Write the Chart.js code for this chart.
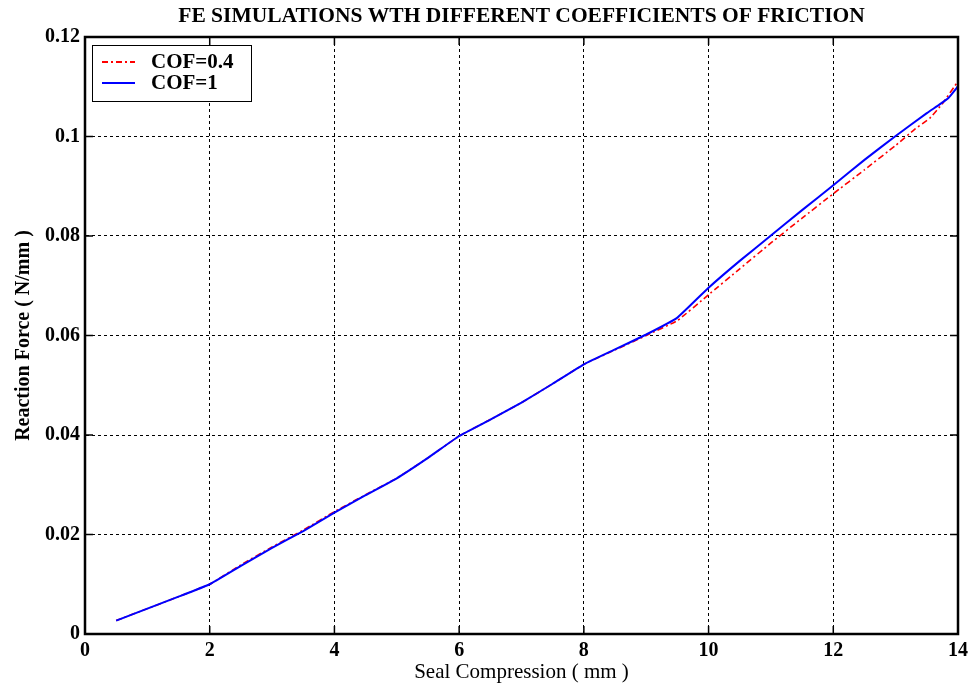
<!DOCTYPE html>
<html>
<head>
<meta charset="utf-8">
<script src="https://cdn.jsdelivr.net/npm/chart.js@4/dist/chart.umd.min.js"></script>
<style>
  html, body { margin: 0; padding: 0; background: #fff; }
  #wrap { width: 976px; height: 687px; position: relative; }
</style>
</head>
<body>
<div id="wrap"><canvas id="frictionChart"></canvas></div>
<script>
// values
const cof1X = [0.5, 1.0, 1.5, 2.0, 2.5, 3.0, 3.5, 4.0, 4.5, 5.0, 5.5, 6.0, 6.5, 7.0, 7.5, 8.0, 8.5, 9.0, 9.5, 10.0, 10.5, 11.0, 11.5, 12.0, 12.5, 13.0, 13.5, 13.7, 13.85, 14.0];
const cof1Y = [0.0027, 0.0051, 0.0075, 0.0100, 0.0137, 0.0173, 0.0207, 0.0244, 0.0279, 0.0313, 0.0354, 0.0398, 0.0431, 0.0465, 0.0503, 0.0542, 0.0572, 0.0602, 0.0636, 0.0696, 0.0750, 0.0801, 0.0852, 0.0902, 0.0953, 0.1001, 0.1047, 0.1064, 0.1078, 0.1101];

const cof04X = [0.5, 1.0, 1.5, 2.0, 2.5, 3.0, 3.5, 4.0, 4.5, 5.0, 5.5, 6.0, 6.5, 7.0, 7.5, 8.0, 8.5, 9.0, 9.5, 10.0, 10.5, 11.0, 11.5, 12.0, 12.5, 13.0, 13.3, 13.55, 13.75, 14.0];
const cof04Y = [0.0027, 0.0051, 0.0075, 0.0100, 0.0139, 0.0175, 0.0209, 0.0246, 0.0280, 0.0313, 0.0354, 0.0398, 0.0431, 0.0465, 0.0503, 0.0542, 0.0571, 0.0600, 0.0630, 0.0682, 0.0734, 0.0786, 0.0836, 0.0885, 0.0933, 0.0982, 0.1014, 0.1037, 0.1066, 0.1111];

const xTickValues = [0, 2, 4, 6, 8, 10, 12, 14];
const yTickValues = [0, 0.02, 0.04, 0.06, 0.08, 0.1, 0.12];
const yTickLabels = ['0', '0.02', '0.04', '0.06', '0.08', '0.1', '0.12'];

const seriesNames = ['COF=0.4', 'COF=1'];
const seriesColors = ['#ff0000', '#0000ff'];
const seriesDash = [[6, 3, 2, 3], []];

const SERIF = '"Liberation Serif", "Times New Roman", serif';

function toPoints(xs, ys) {
    return xs.map((x, i) => ({ x: x, y: ys[i] }));
}

// box round the plot, inward tick marks and the legend in the upper left corner
const framePlugin = {
    id: 'frame',
    afterDraw(chart) {
        const ctx = chart.ctx;
        const a = chart.chartArea;
        const xs = chart.scales.x, ys = chart.scales.y;
        ctx.save();
        ctx.strokeStyle = '#000';
        ctx.setLineDash([]);
        ctx.lineWidth = 1.5;
        ctx.beginPath();
        xTickValues.forEach(v => {
            const px = xs.getPixelForValue(v);
            ctx.moveTo(px, a.bottom); ctx.lineTo(px, a.bottom - 8);
            ctx.moveTo(px, a.top); ctx.lineTo(px, a.top + 8);
        });
        yTickValues.forEach(v => {
            const py = ys.getPixelForValue(v);
            ctx.moveTo(a.left, py); ctx.lineTo(a.left + 8, py);
            ctx.moveTo(a.right, py); ctx.lineTo(a.right - 8, py);
        });
        ctx.stroke();
        ctx.lineWidth = 2.5;
        ctx.strokeRect(a.left, a.top, a.right - a.left, a.bottom - a.top);

        // legend
        const lx = a.left + 7, ly = a.top + 8, lw = 159, lh = 56;
        ctx.fillStyle = '#fff';
        ctx.fillRect(lx, ly, lw, lh);
        ctx.lineWidth = 1;
        ctx.strokeRect(lx + 0.5, ly + 0.5, lw, lh);
        ctx.font = 'bold 21px ' + SERIF;
        ctx.textBaseline = 'middle';
        ctx.textAlign = 'left';
        seriesNames.forEach((name, i) => {
            const rowY = ly + 17 + i * 21;
            ctx.strokeStyle = seriesColors[i];
            ctx.lineWidth = 2;
            ctx.setLineDash(seriesDash[i]);
            ctx.beginPath();
            ctx.moveTo(lx + 10, rowY);
            ctx.lineTo(lx + 43, rowY);
            ctx.stroke();
            ctx.setLineDash([]);
            ctx.fillStyle = '#000';
            ctx.fillText(name, lx + 59, rowY + 1);
        });
        ctx.restore();
    }
};

document.addEventListener('DOMContentLoaded', function() {
    const ctx = document.getElementById('frictionChart').getContext('2d');
    new Chart(ctx, {
        type: 'line',
        data: {
            datasets: [
                {
                    label: seriesNames[0],
                    data: toPoints(cof04X, cof04Y),
                    borderColor: seriesColors[0],
                    borderWidth: 1.6,
                    borderDash: seriesDash[0],
                    pointRadius: 0,
                    tension: 0.1,
                    fill: false,
                    order: 2
                },
                {
                    label: seriesNames[1],
                    data: toPoints(cof1X, cof1Y),
                    borderColor: seriesColors[1],
                    borderWidth: 2,
                    pointRadius: 0,
                    tension: 0.1,
                    fill: false,
                    order: 1
                }
            ]
        },
        options: {
            responsive: true,
            maintainAspectRatio: false,
            animation: false,
            layout: { padding: { left: 8, right: 18, top: 0, bottom: 0 } },
            plugins: {
                legend: { display: false },
                tooltip: { enabled: false },
                title: { display: false }
            },
            scales: {
                // top axis only carries the chart title, centred over the plot
                xTop: {
                    type: 'linear',
                    position: 'top',
                    min: 0,
                    max: 14,
                    afterFit: s => { s.height = 37; },
                    grid: { display: false, drawTicks: false },
                    border: { display: false },
                    ticks: { display: false },
                    title: {
                        display: true,
                        text: 'FE SIMULATIONS WTH DIFFERENT COEFFICIENTS OF FRICTION',
                        color: '#000',
                        font: { family: SERIF, size: 21.5, weight: 'bold' },
                        padding: { top: 4, bottom: 0 }
                    }
                },
                x: {
                    type: 'linear',
                    min: 0,
                    max: 14,
                    afterBuildTicks: s => { s.ticks = xTickValues.map(v => ({ value: v })); },
                    afterFit: s => { s.height = 53; },
                    grid: { color: '#000', lineWidth: 1, drawTicks: false },
                    border: { display: true, color: '#000', width: 2, dash: [3, 3] },
                    ticks: {
                        color: '#000',
                        padding: 5,
                        maxRotation: 0,
                        font: { family: SERIF, size: 20, weight: 'bold' }
                    },
                    title: {
                        display: true,
                        text: 'Seal Compression ( mm )',
                        color: '#000',
                        font: { family: SERIF, size: 21 },
                        padding: { top: 0, bottom: 2 }
                    }
                },
                y: {
                    type: 'linear',
                    min: 0,
                    max: 0.12,
                    afterBuildTicks: s => { s.ticks = yTickValues.map(v => ({ value: v })); },
                    afterFit: s => { s.width = 77; },
                    grid: { color: '#000', lineWidth: 1, drawTicks: false },
                    border: { display: true, color: '#000', width: 2, dash: [3, 3] },
                    ticks: {
                        color: '#000',
                        padding: 5,
                        font: { family: SERIF, size: 20, weight: 'bold' },
                        callback: function(value, index) { return yTickLabels[index]; }
                    },
                    title: {
                        display: true,
                        text: 'Reaction Force ( N/mm )',
                        color: '#000',
                        font: { family: SERIF, size: 20, weight: 'bold' },
                        padding: { top: 4, bottom: 0 }
                    }
                }
            }
        },
        plugins: [framePlugin]
    });
});
</script>
</body>
</html>
